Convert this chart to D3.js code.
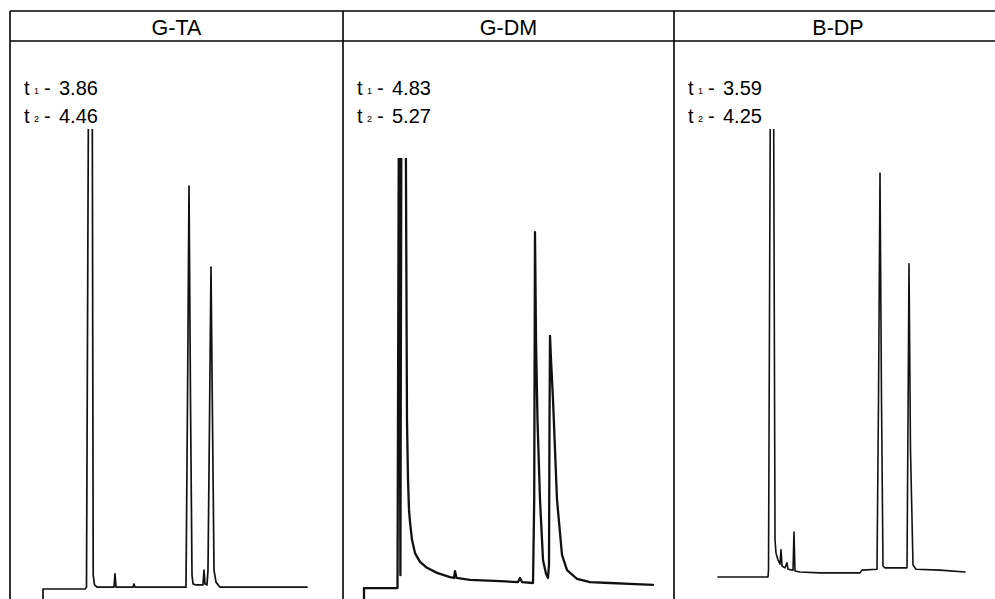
<!DOCTYPE html>
<meta charset="utf-8">
<style>
    body { margin: 0; background: #fff; }
    svg { display: block; font-family: "Liberation Sans", Arial, sans-serif; }
    .grid { stroke: #000; stroke-width: 1.6; fill: none; }
    .trace { fill: none; stroke: #111; stroke-linejoin: round; stroke-linecap: round; }
</style>
<body>
<script src="https://cdn.jsdelivr.net/npm/d3@7"></script>
<script>

// column titles and retention times
var titles = ["G-TA", "G-DM", "B-DP"];
var t1Labels = ["3.86", "4.83", "3.59"];
var t2Labels = ["4.46", "5.27", "4.25"];

// chromatograms: time (min) vs detector signal (arbitrary units)
var gtaTime = [0, 0, 1.113, 1.152, 1.208, 1.303, 1.330, 1.364, 1.430, 1.881, 1.907, 1.934, 2.384, 2.410, 2.437,
    3.788, 3.828, 3.868, 3.907, 3.947, 3.974, 4.053, 4.238, 4.265, 4.291, 4.344, 4.371, 4.411, 4.450, 4.490,
    4.530, 4.583, 4.689, 6.993];
var gtaSignal = [-2.2, 0, 0, 0.4, 115, 115, 3.0, 0.9, 0.4, 0.4, 3.3, 0.4, 0.4, 1.1, 0.4,
    0.4, 41, 87.6, 41, 3.0, 1.1, 0.9, 0.9, 4.1, 1.1, 0.9, 4.1, 36.7, 70, 36.7,
    4.1, 1.5, 0.4, 0.4];

var gdmTime = [0, 0, 0.948, 0.990, 1.030, 1.060, 1.174, 1.216, 1.245, 1.273, 1.301, 1.358, 1.443, 1.584, 1.782,
    2.065, 2.433, 2.546, 2.574, 2.617, 2.999, 3.847, 4.357, 4.413, 4.470, 4.781, 4.815, 4.837, 4.866, 4.908,
    4.979, 5.064, 5.149, 5.205, 5.233, 5.248, 5.262, 5.290, 5.347, 5.460, 5.601, 5.743, 6.025, 6.393, 6.959,
    7.525, 8.175];
var gdmSignal = [-2.2, 0.2, 0.2, 115, 3.0, 115, 115, 36.7, 23.7, 17.2, 14.6, 10.7, 7.8, 5.9, 4.6,
    3.5, 2.6, 2.4, 3.9, 2.4, 2.0, 1.7, 1.5, 2.4, 1.5, 1.3, 19.3, 77.6, 54.1, 36.7,
    19.4, 6.3, 3.3, 2.4, 5.2, 36.7, 55.0, 49.8, 41.1, 19.4, 7.4, 4.1, 2.2, 1.5, 1.3,
    1.1, 0.9];

var bdpTime = [-0.091, 1.045, 1.057, 1.102, 1.170, 1.205, 1.227, 1.273, 1.318, 1.341, 1.364, 1.432, 1.477, 1.500, 1.614,
    1.636, 1.659, 1.773, 2.227, 3.136, 3.182, 3.523, 3.557, 3.591, 3.625, 3.659, 3.705, 4.205, 4.223, 4.250,
    4.284, 4.341, 4.409, 4.955, 5.523];
var bdpSignal = [2.6, 2.6, 4.1, 115, 115, 10.7, 7.8, 6.3, 5.4, 8.5, 5.0, 4.6, 5.7, 4.3, 4.1,
    12.4, 3.9, 3.7, 3.5, 3.5, 4.1, 4.3, 41.1, 90.4, 41.1, 5.0, 4.6, 4.6, 30.2, 70.7,
    30.2, 5.2, 4.3, 4.1, 3.7];

// recorder full scale for each strip (signal where the pen stops)
var fullScale = [100, 93.7, 100];

var W = 995, H = 599;
var colEdges = [10, 343, 674, 1002];
var headTop = 11, headBottom = 41;

var svg = d3.select("body").append("svg")
    .attr("width", W)
    .attr("height", H);

// shared signal scale
var y = d3.scaleLinear().domain([0, 100]).range([589, 129]);

// each strip ran at its own chart speed
var panels = [
    { time: gtaTime, signal: gtaSignal, x: d3.scaleLinear().domain([0, 7]).range([43, 307.25]), sw: 1.7 },
    { time: gdmTime, signal: gdmSignal, x: d3.scaleLinear().domain([0, 8]).range([364, 646.8]), sw: 2.3 },
    { time: bdpTime, signal: bdpSignal, x: d3.scaleLinear().domain([0, 5]).range([722, 942]), sw: 1.6 }
];

var defs = svg.append("defs");

panels.forEach(function (p, i) {
    var left = colEdges[i], right = colEdges[i + 1];

    defs.append("clipPath").attr("id", "clip" + i)
        .append("rect")
        .attr("x", left + 1)
        .attr("y", y(fullScale[i]))
        .attr("width", right - left - 2)
        .attr("height", H - y(fullScale[i]));

    // header
    svg.append("text")
        .attr("x", (left + right) / 2)
        .attr("y", 35)
        .attr("text-anchor", "middle")
        .attr("font-size", 21.5)
        .text(titles[i]);

    // retention time labels
    [[t1Labels[i], "1", 95], [t2Labels[i], "2", 123]].forEach(function (l) {
        var x0 = left + 14;
        svg.append("text").attr("x", x0).attr("y", l[2]).attr("font-size", 20).text("t");
        svg.append("text").attr("x", x0 + 10).attr("y", l[2] - 1).attr("font-size", 9).text(l[1]);
        svg.append("text").attr("x", x0 + 20).attr("y", l[2]).attr("font-size", 20).text("-");
        svg.append("text").attr("x", x0 + 35).attr("y", l[2]).attr("font-size", 20).text(l[0]);
    });

    var line = d3.line()
        .x(function (d) { return p.x(d[0]); })
        .y(function (d) { return y(d[1]); });

    svg.append("path")
        .datum(d3.zip(p.time, p.signal))
        .attr("class", "trace")
        .attr("clip-path", "url(#clip" + i + ")")
        .attr("stroke-width", p.sw)
        .attr("d", line);
});

// table rules
svg.append("line").attr("class", "grid").attr("x1", 10).attr("x2", W).attr("y1", headTop).attr("y2", headTop);
svg.append("line").attr("class", "grid").attr("x1", 10).attr("x2", W).attr("y1", headBottom).attr("y2", headBottom);
colEdges.slice(0, 3).forEach(function (cx) {
    svg.append("line").attr("class", "grid")
        .attr("x1", cx).attr("x2", cx)
        .attr("y1", headTop).attr("y2", H);
});

</script>
</body>
